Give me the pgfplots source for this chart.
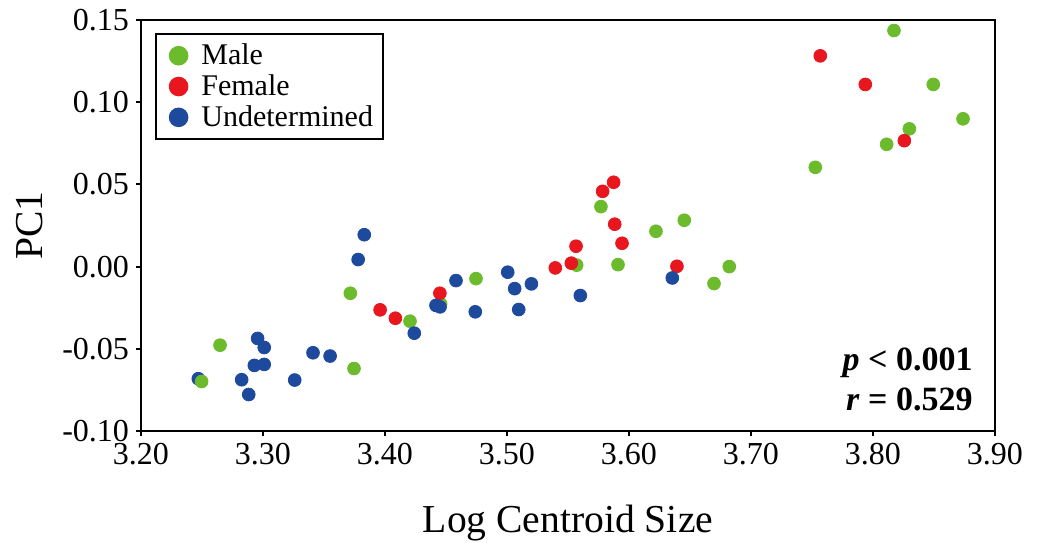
\documentclass[border=0pt]{standalone}
\usepackage{fontspec}
\setmainfont{Liberation Serif}
\usepackage{pgfplots}
\pgfplotsset{compat=1.18}
\definecolor{malegreen}{HTML}{6BBB2C}
\definecolor{femalered}{HTML}{E8161E}
\definecolor{undetblue}{HTML}{1D4A9C}

\begin{document}
\begin{tikzpicture}
\begin{axis}[
    scale only axis,
    width=427pt,
    height=205.5pt,
    xmin=3.2, xmax=3.9,
    ymin=-0.1, ymax=0.15,
    xtick={3.2,3.3,...,3.91},
    ytick={-0.1,-0.05,0,0.05,0.1,0.15},
    xtick pos=left, ytick pos=left,
    tick align=outside,
    major tick length=2.5pt,
    axis line style={line width=1pt},
    every tick/.style={black, line width=1pt},
    /pgf/number format/fixed,
    /pgf/number format/fixed zerofill,
    /pgf/number format/precision=2,
    /pgf/number format/assume math mode=true,
    tick label style={font=\fontsize{16}{18}\selectfont},
    scaled ticks=false,
    clip=false,
    xlabel={Log Centroid Size},
    ylabel={PC1},
    xlabel style={at={(axis description cs:0.5,-0.18)}, anchor=north, inner sep=0pt, font=\fontsize{19.8}{22}\selectfont},
    ylabel style={at={(axis description cs:-0.1148,0.5)}, anchor=south, inner sep=0pt, font=\fontsize{19.8}{22}\selectfont},
    legend style={at={(0,1)}, anchor=north west, xshift=7pt, yshift=-6.5pt,
        draw=black, line width=0.8pt, font=\fontsize{15}{16.5}\selectfont,
        cells={anchor=west}, row sep=-0.5pt, inner xsep=3pt, inner ysep=3pt},
    legend image code/.code={\path (0pt,0pt) (17pt,0pt); \draw[#1,mark size=4.5pt] plot coordinates {(8pt,0pt)};},
]
% Male
\addplot[only marks, mark=*, mark size=3.2pt, color=malegreen] coordinates {
(3.2648,-0.0478) (3.3716,-0.0162) (3.3746,-0.0620) (3.4205,-0.0332)
(3.4456,-0.0227) (3.4746,-0.0073) (3.5571,0.0009) (3.5770,0.0365)
(3.5910,0.0012) (3.6221,0.0215) (3.6453,0.0282) (3.6697,-0.0103)
(3.6822,0.0000) (3.7527,0.0604) (3.8112,0.0744) (3.8172,0.1436)
(3.8298,0.0838) (3.8494,0.1108) (3.8738,0.0899)
};
\addlegendentry{Male}
% Female
\addplot[only marks, mark=*, mark size=3.2pt, color=femalered] coordinates {
(3.3960,-0.0263) (3.4085,-0.0314) (3.4450,-0.0162) (3.5396,-0.0008)
(3.5527,0.0021) (3.5566,0.0124) (3.5784,0.0458) (3.5874,0.0513)
(3.5883,0.0258) (3.5943,0.0142) (3.6393,0.0002) (3.7568,0.1282)
(3.7937,0.1108) (3.8257,0.0766)
};
\addlegendentry{Female}
% Undetermined
\addplot[only marks, mark=*, mark size=3.2pt, color=undetblue] coordinates {
(3.2470,-0.0682) (3.2825,-0.0688) (3.2883,-0.0778) (3.2929,-0.0601)
(3.2956,-0.0437) (3.3010,-0.0492) (3.3010,-0.0595) (3.3260,-0.0690)
(3.3410,-0.0524) (3.3550,-0.0544) (3.3780,0.0043) (3.3830,0.0194)
(3.4240,-0.0405) (3.4418,-0.0236) (3.4451,-0.0245) (3.4582,-0.0085)
(3.4740,-0.0275) (3.5006,-0.0034) (3.5063,-0.0134) (3.5096,-0.0261)
(3.5200,-0.0105) (3.5601,-0.0176) (3.6355,-0.0069)
};
\addlegendentry{Undetermined}
% male point drawn over the blue one
\addplot[only marks, mark=*, mark size=3.2pt, color=malegreen, forget plot] coordinates {(3.2497,-0.0699)};

\node[anchor=base east, inner sep=0pt, font=\fontsize{17}{19}\selectfont\bfseries] at (axis description cs:0.9742,0.1484) {\textit{p} < 0.001};
\node[anchor=base east, inner sep=0pt, font=\fontsize{17}{19}\selectfont\bfseries] at (axis description cs:0.9742,0.0511) {\textit{r} = 0.529};
\end{axis}
\pgfresetboundingbox
\path[use as bounding box] (current axis.south west) ++(-70.5pt,-55.5pt) rectangle ++(518.5pt,271pt);
\end{tikzpicture}
\end{document}
